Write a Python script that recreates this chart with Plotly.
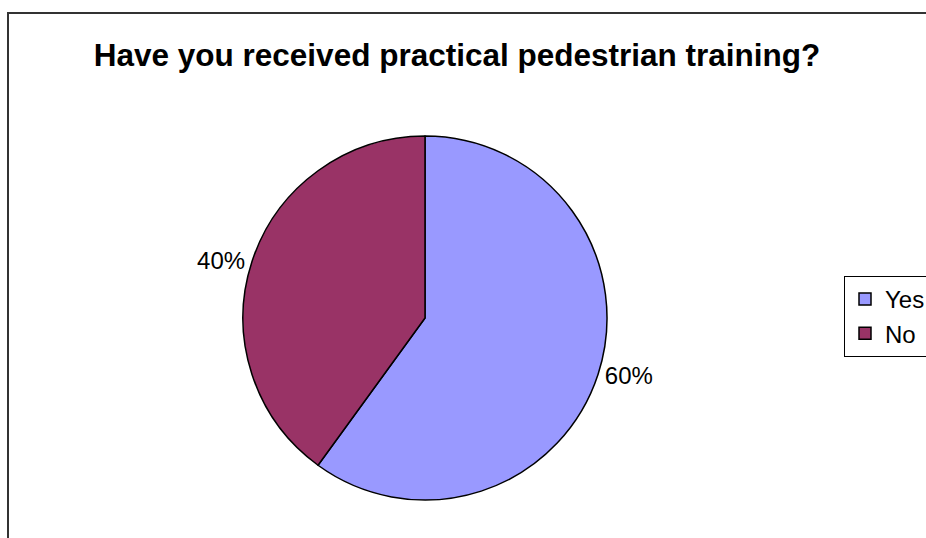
import plotly.graph_objects as go

W, H = 926, 538

title = "Have you received practical pedestrian training?"
labels = ["Yes", "No"]
values = [60, 40]
colors = ["#9999FF", "#993366"]

# pie geometry in pixels (centre and radius)
cx, cy, r = 425, 318, 182

fig = go.Figure()
fig.add_trace(go.Pie(
    labels=labels,
    values=values,
    sort=False,
    direction="clockwise",
    rotation=0,
    marker=dict(colors=colors, line=dict(color="black", width=1.5)),
    textinfo="percent",
    textposition="outside",
    outsidetextfont=dict(family="Arial, Liberation Sans", size=24, color="black"),
    domain=dict(x=[(cx - r) / W, (cx + r) / W],
                y=[(H - cy - r) / H, (H - cy + r) / H]),
    hoverinfo="label+percent",
))

# outer chart frame (cut off at right and bottom)
fig.add_shape(type="rect", xref="paper", yref="paper",
              x0=8 / W, x1=1.05, y0=-0.05, y1=1 - 13 / H,
              line=dict(color="#333333", width=2), fillcolor="rgba(0,0,0,0)")

fig.update_layout(
    width=W, height=H,
    margin=dict(l=0, r=0, t=0, b=0, autoexpand=False),
    paper_bgcolor="white",
    plot_bgcolor="white",
    font=dict(family="Arial, Liberation Sans", size=24, color="black"),
    title=dict(text="<b>" + title + "</b>", x=457 / W, xanchor="center",
               y=1 - 55 / H, yanchor="middle",
               font=dict(family="Arial, Liberation Sans", size=31.5, color="black")),
    showlegend=True,
    legend=dict(x=844 / W, y=1 - 276 / H, xanchor="left", yanchor="top",
                bordercolor="black", borderwidth=1, bgcolor="white",
                font=dict(size=24)),
)

# page body has an 8px default margin; drop it so the figure sits at 0,0
fig.write_html("out.html", config={"displayModeBar": False},
               post_script="document.body.style.margin='0';")
